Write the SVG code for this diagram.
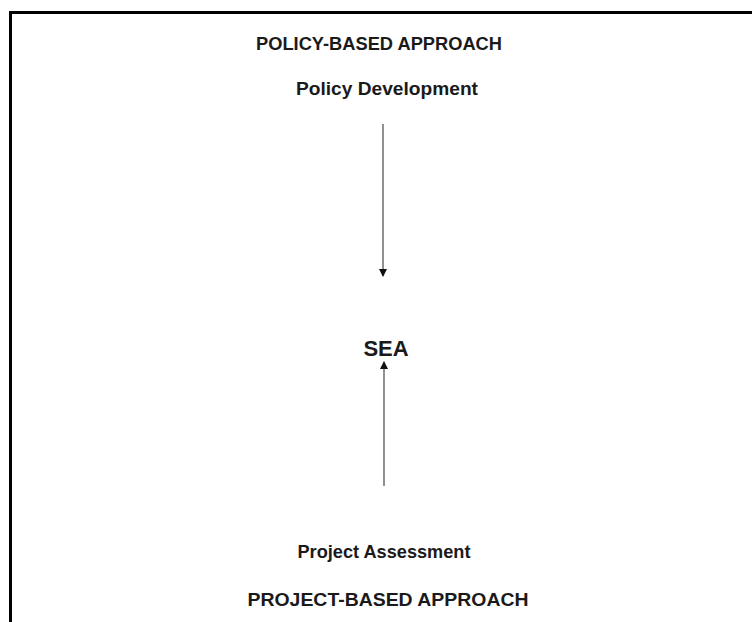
<svg xmlns="http://www.w3.org/2000/svg" width="752" height="622" viewBox="0 0 752 622">
<defs>
<style>
text{font-family:"Liberation Sans",Arial,Helvetica,sans-serif;font-weight:bold;fill:#1a1a1a;text-anchor:middle}
.t{font-size:18px}
.c{stroke:#555;stroke-width:1.3;fill:none}
</style>
<marker id="ah" viewBox="0 0 8 8" refX="7" refY="4" markerWidth="8" markerHeight="8" markerUnits="userSpaceOnUse" orient="auto">
<path d="M0,0 L8,4 L0,8 Z" fill="#111"/>
</marker>
</defs>
<rect width="752" height="622" fill="#fff"/>
<path d="M10.5,622 V12.5 H752" fill="none" stroke="#000" stroke-width="3"/>
<g id="policy-approach"><text class="t" x="379" y="50" textLength="246" lengthAdjust="spacingAndGlyphs">POLICY-BASED APPROACH</text></g>
<g id="policy-development"><text class="t" x="387" y="95" style="font-size:18.5px" textLength="182" lengthAdjust="spacingAndGlyphs">Policy Development</text></g>
<g id="sea"><text x="386" y="356" style="font-size:22px">SEA</text></g>
<g id="project-assessment"><text class="t" x="384" y="558" textLength="173" lengthAdjust="spacingAndGlyphs">Project Assessment</text></g>
<g id="project-approach"><text class="t" x="388" y="606" style="font-size:19px" textLength="281" lengthAdjust="spacingAndGlyphs">PROJECT-BASED APPROACH</text></g>
<g id="connectors">
<line class="c" x1="383" y1="124" x2="383" y2="276" marker-end="url(#ah)"/>
<line class="c" x1="384" y1="486" x2="384" y2="362" marker-end="url(#ah)"/>
</g>
</svg>
